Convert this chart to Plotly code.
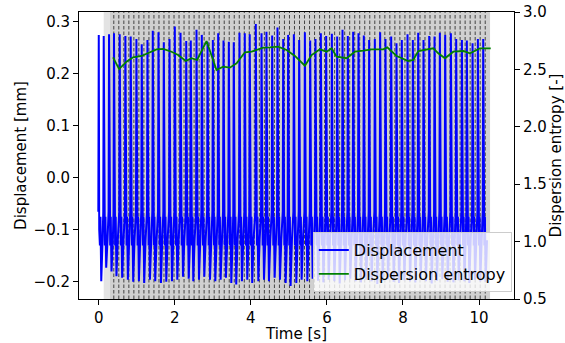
import numpy as np
import plotly.graph_objects as go

# ---------------- data ----------------
# time of each displacement peak [s]
peak_t = [0.00, 0.13, 0.27, 0.40, 0.55, 0.70, 0.84, 0.99, 1.13, 1.28, 1.42, 1.57,
          1.71, 1.86, 2.00, 2.15, 2.30, 2.42, 2.57, 2.71, 2.86, 3.00, 3.14, 3.28,
          3.42, 3.55, 3.70, 3.84, 3.97, 4.13, 4.28, 4.41, 4.56, 4.70, 4.85, 4.98,
          5.13, 5.27, 5.42, 5.56, 5.70, 5.84, 5.98, 6.13, 6.27, 6.41, 6.55, 6.69,
          6.83, 6.97, 7.11, 7.26, 7.40, 7.54, 7.69, 7.83, 7.97, 8.12, 8.26, 8.40,
          8.54, 8.69, 8.83, 8.97, 9.11, 9.26, 9.40, 9.55, 9.68, 9.83, 9.97, 10.11]
# peak displacement of each cycle [mm]
peak_val = [0.275, 0.273, 0.276, 0.278, 0.276, 0.273, 0.272, 0.267, 0.257, 0.265, 0.283, 0.280,
            0.261, 0.267, 0.291, 0.279, 0.263, 0.264, 0.285, 0.275, 0.262, 0.265, 0.278, 0.264,
            0.262, 0.261, 0.279, 0.278, 0.276, 0.296, 0.278, 0.281, 0.274, 0.289, 0.267, 0.275,
            0.276, 0.265, 0.280, 0.264, 0.267, 0.278, 0.273, 0.277, 0.272, 0.285, 0.273, 0.281,
            0.278, 0.274, 0.265, 0.267, 0.280, 0.267, 0.272, 0.259, 0.265, 0.276, 0.265, 0.279,
            0.265, 0.273, 0.272, 0.279, 0.275, 0.278, 0.267, 0.265, 0.264, 0.259, 0.267, 0.267]
# trough displacement of each cycle [mm]
trough_val = [-0.199, -0.173, -0.180, -0.189, -0.192, -0.196, -0.200, -0.199, -0.202, -0.196, -0.199, -0.202,
              -0.200, -0.199, -0.196, -0.190, -0.194, -0.199, -0.196, -0.190, -0.196, -0.199, -0.196, -0.192,
              -0.202, -0.205, -0.199, -0.196, -0.202, -0.199, -0.196, -0.199, -0.192, -0.196, -0.202, -0.208,
              -0.202, -0.196, -0.199, -0.194, -0.198, -0.201, -0.196, -0.199, -0.203, -0.197, -0.194, -0.199,
              -0.201, -0.196, -0.199, -0.204, -0.198, -0.195, -0.200, -0.202, -0.197, -0.199, -0.201, -0.196,
              -0.199, -0.203, -0.198, -0.195, -0.200, -0.201, -0.197, -0.199, -0.202, -0.196, -0.199, -0.200]
# waveform template of one cycle (time offset from peak [s], displacement [mm])
cycle_dt = [-0.012, 0.0, 0.012, 0.030, 0.045, 0.065, 0.100]
cycle_val = [-0.065, None, -0.100, -0.130, -0.075, "trough", -0.120]

# dispersion entropy
ent_t = [0.376, 0.534, 0.729, 0.903, 1.124, 1.297, 1.518, 1.692, 1.913, 2.087, 2.289, 2.439,
         2.587, 2.834, 3.097, 3.271, 3.447, 3.624, 3.842, 4.018, 4.324, 4.500, 4.718, 4.939,
         5.158, 5.421, 5.597, 5.816, 5.992, 6.124, 6.255, 6.518, 6.737, 6.955, 7.176, 7.482,
         7.587, 7.834, 8.139, 8.271, 8.403, 8.797, 8.929, 9.105, 9.324, 9.587, 9.763, 10.026, 10.308]
ent_val = [2.605, 2.503, 2.567, 2.605, 2.617, 2.640, 2.675, 2.678, 2.654, 2.625, 2.573, 2.597,
           2.582, 2.747, 2.495, 2.524, 2.515, 2.553, 2.649, 2.654, 2.689, 2.692, 2.698, 2.669,
           2.617, 2.532, 2.625, 2.675, 2.654, 2.684, 2.611, 2.597, 2.654, 2.663, 2.675, 2.675,
           2.692, 2.617, 2.573, 2.582, 2.660, 2.684, 2.640, 2.597, 2.654, 2.660, 2.640, 2.684, 2.684]

# analysis windows
window_first = 0.395
window_step = 0.132
n_windows = 75
span_light = [0.13, 0.29]
span_dark = [0.29, 10.29]

x_ticks = [0, 2, 4, 6, 8, 10]
y_ticks = [-0.2, -0.1, 0.0, 0.1, 0.2, 0.3]
y2_ticks = [0.5, 1.0, 1.5, 2.0, 2.5, 3.0]

# ---------------- build displacement polyline ----------------
disp_x, disp_y = [], []
for tp, pk, tr in zip(peak_t, peak_val, trough_val):
    for dt, v in zip(cycle_dt, cycle_val):
        disp_x.append(tp + dt)
        if v is None:
            disp_y.append(pk)
        elif v == "trough":
            disp_y.append(tr)
        else:
            disp_y.append(v)

XR = [-0.52, 10.92]
YR = [-0.233, 0.319]
Y2R = [0.5, 3.0]

win_t = [window_first + i * window_step for i in range(n_windows)]
dash_x, dash_y = [], []
for t in win_t:
    dash_x += [t, t, None]
    dash_y += [YR[0], YR[1], None]

font = dict(family="DejaVu Sans", size=15, color="black")

fig = go.Figure()
fig.add_trace(go.Scatter(x=dash_x, y=dash_y, mode="lines",
                         line=dict(color="#444444", width=1, dash="3.5px,2px"),
                         showlegend=False, hoverinfo="skip"))
fig.add_trace(go.Scatter(x=disp_x, y=disp_y, mode="lines", name="Displacement",
                         line=dict(color="#0000ff", width=2)))
fig.add_trace(go.Scatter(x=ent_t, y=ent_val, mode="lines", name="Dispersion entropy",
                         line=dict(color="#008000", width=1.8), yaxis="y2"))

fig.add_shape(type="rect", xref="x", yref="paper", x0=span_light[0], x1=span_light[1],
              y0=0, y1=1, fillcolor="#e3e3e3", line_width=0, layer="below")
fig.add_shape(type="rect", xref="x", yref="paper", x0=span_dark[0], x1=span_dark[1],
              y0=0, y1=1, fillcolor="#d0d0d0", line_width=0, layer="below")

axis_common = dict(showgrid=False, zeroline=False, showline=True, linecolor="black",
                   linewidth=1, ticks="outside", ticklen=5, tickcolor="black",
                   tickfont=font, title_font=font)

fig.update_layout(
    width=565, height=343,
    margin=dict(l=79, r=51, t=12, b=44, autoexpand=False),
    plot_bgcolor="white", paper_bgcolor="white",
    font=font,
    xaxis=dict(range=XR, tickvals=x_ticks, mirror=True,
               title=dict(text="Time [s]", standoff=0), **axis_common),
    yaxis=dict(range=YR, tickvals=y_ticks, tickformat=".1f",
               title=dict(text="Displacement [mm]", standoff=3), **axis_common),
    yaxis2=dict(range=Y2R, tickvals=y2_ticks, tickformat=".1f", overlaying="y", side="right",
                title=dict(text="Dispersion entropy [-]", standoff=3), **axis_common),
    legend=dict(x=0.995, y=0.024, xanchor="right", yanchor="bottom",
                bgcolor="rgba(255,255,255,0.8)", bordercolor="#cccccc", borderwidth=1,
                font=dict(family="DejaVu Sans", size=16, color="black"), tracegroupgap=0),
    showlegend=True,
)

fig.write_html("out.html")
